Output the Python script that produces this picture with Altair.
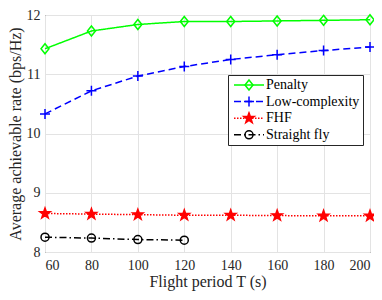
import altair as alt
import pandas as pd

# ---- data ----
periods = [60, 80, 100, 120, 140, 160, 180, 200]
penalty = [11.43, 11.73, 11.84, 11.89, 11.89, 11.90, 11.91, 11.92]
low_complexity = [10.33, 10.72, 10.97, 11.13, 11.25, 11.33, 11.40, 11.46]
fhf = [8.65, 8.64, 8.63, 8.62, 8.62, 8.615, 8.61, 8.61]
straight_periods = [60, 80, 100, 120]
straight_fly = [8.25, 8.235, 8.21, 8.20]

series_names = ["Penalty", "Low-complexity", "FHF", "Straight fly"]
y_ticks = [8, 9, 10, 11, 12]

# ---- styles ----
series_colors = ["#00ff00", "#0000ff", "#ff0000", "#000000"]
series_dashes = [[1, 0], [7, 4], [1.5, 1.5], [7, 3, 1.5, 3]]
series_fills = ["transparent", "transparent", "#ff0000", "transparent"]
diamond = "M0,-1L0.8,0L0,1L-0.8,0Z"
plus = "M-1,0H1M0,-1V1"
star = ("M0,-1.1L0.26,-0.36L1.05,-0.34L0.42,0.14L0.65,0.89L0,0.44L-0.65,0.89"
        "L-0.42,0.14L-1.05,-0.34L-0.26,-0.36Z")
circle = "M0.8,0A0.8,0.8,0,1,1,-0.8,0A0.8,0.8,0,1,1,0.8,0Z"
series_shapes = [diamond, plus, star, circle]
legend_stroke = "M-3,0H3"

rows = []
for name, xs, ys in [
    ("Penalty", periods, penalty),
    ("Low-complexity", periods, low_complexity),
    ("FHF", periods, fhf),
    ("Straight fly", straight_periods, straight_fly),
]:
    for xv, yv in zip(xs, ys):
        rows.append({"series": name, "period": xv, "rate": yv})
df = pd.DataFrame(rows)

FONT = "Liberation Serif"
TXT = "#262626"
LEG_X, LEG_Y = 183, 60

x_enc = alt.X(
    "period:Q",
    scale=alt.Scale(domain=[60, 200], nice=False),
    axis=alt.Axis(values=periods, title="Flight period T (s)", labelPadding=6,
                  titlePadding=1),
)
y_enc = alt.Y(
    "rate:Q",
    scale=alt.Scale(domain=[8, 12], nice=False, zero=False),
    axis=alt.Axis(values=y_ticks, title="Average achievable rate (bps/Hz)",
                  labelPadding=5, titlePadding=3),
)

common_legend = dict(
    title=None, orient="none", legendX=LEG_X, legendY=LEG_Y,
    symbolSize=100, symbolStrokeWidth=1.5, symbolOffset=11,
    padding=3, rowPadding=2.6, clipHeight=14,
    labelFont=FONT, labelFontSize=14,
)
line_legend = alt.Legend(
    symbolType=legend_stroke, labelOffset=10, labelColor="#000000",
    fillColor="white", strokeColor=TXT, cornerRadius=0, zindex=1,
    **common_legend,
)
marker_legend = alt.Legend(
    labelOffset=10, labelExpr="''", zindex=2, **common_legend,
)

lines = alt.Chart(df).mark_line(strokeWidth=1.5).encode(
    x=x_enc,
    y=y_enc,
    color=alt.Color("series:N", scale=alt.Scale(domain=series_names, range=series_colors),
                    legend=line_legend),
    strokeDash=alt.StrokeDash("series:N", scale=alt.Scale(domain=series_names, range=series_dashes),
                              legend=line_legend),
)

points = alt.Chart(df).mark_point(strokeWidth=1.5, opacity=1, size=100).encode(
    x=x_enc,
    y=y_enc,
    color=alt.Color("series:N", scale=alt.Scale(domain=series_names, range=series_colors),
                    legend=marker_legend),
    shape=alt.Shape("series:N", scale=alt.Scale(domain=series_names, range=series_shapes),
                    legend=marker_legend),
    fill=alt.Fill("series:N", scale=alt.Scale(domain=series_names, range=series_fills),
                  legend=marker_legend),
)

chart = (
    alt.layer(lines, points)
    .resolve_scale(color="independent", strokeDash="independent",
                   shape="independent", fill="independent")
    .properties(
        width=325, height=237,
        autosize=alt.AutoSizeParams(type="none"),
        padding={"left": 37, "top": 7, "right": 4, "bottom": 40},
    )
    .configure_view(stroke=TXT, strokeWidth=1)
    .configure_axis(
        labelFont=FONT, labelFontSize=14, labelColor=TXT,
        titleFont=FONT, titleFontSize=16, titleFontWeight="normal", titleColor=TXT,
        domain=False, ticks=False, gridColor="#e3e3e3", gridWidth=1,
    )
)

chart.save("out.html", embed_options={"renderer": "svg", "actions": False})
